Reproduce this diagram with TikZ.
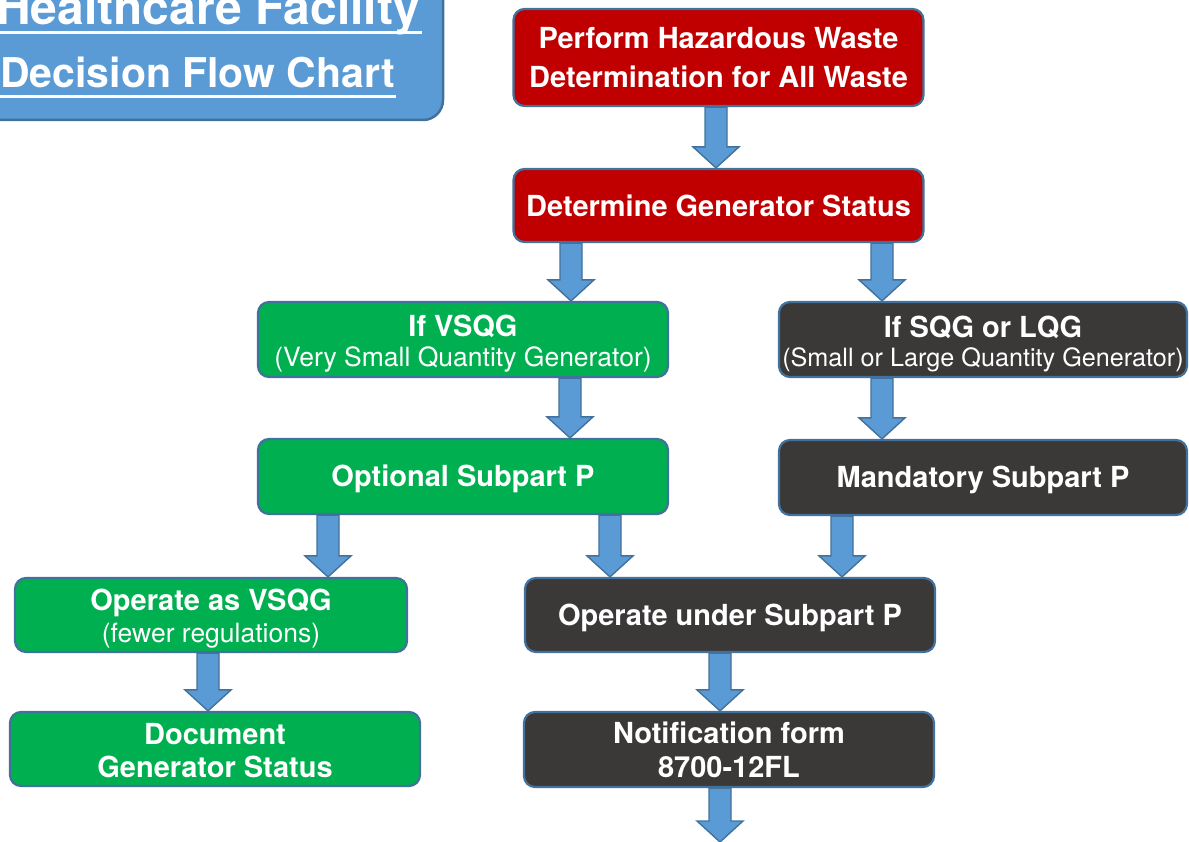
\documentclass[tikz,border=0pt]{standalone}
\usepackage{fontspec}
\setmainfont{TeX Gyre Heros}
\usetikzlibrary{calc}
\definecolor{redbox}{HTML}{C00000}
\definecolor{greenbox}{HTML}{00B050}
\definecolor{darkbox}{HTML}{3B3838}
\definecolor{edgeblue}{HTML}{41719C}
\definecolor{arrowblue}{HTML}{5B9BD5}
\tikzset{
  box/.style={draw=edgeblue, line width=2.2pt, rounded corners=11pt, text=white,
    align=center, inner sep=0pt, minimum height=75pt, minimum width=410pt},
  redb/.style={box, fill=redbox},
  greenb/.style={box, fill=greenbox},
  darkb/.style={box, fill=darkbox},
  blockarrow/.style={fill=arrowblue, draw=edgeblue, line width=1.4pt, line join=miter},
  titletext/.style={text=white, inner sep=0pt, anchor=base east},
  uline/.style={white, line width=2.8pt},
}
\newcommand{\boxfont}[1]{\bfseries\fontsize{29}{#1}\selectfont}
\newcommand{\subtxt}[2][26.5]{{\mdseries\fontsize{#1}{30}\selectfont #2}}
\newcommand{\lift}[1]{\rule{0pt}{#1pt}}
\newcommand{\barrow}[3]{%
  \path[blockarrow] let \p1=(#2.south), \p2=(#3.north), \p3=(#1,0) in
    (\x3-11pt,\y1) -- (\x3+11pt,\y1) -- (\x3+11pt,\y2+21pt) -- (\x3+23pt,\y2+21pt)
    -- (\x3,\y2) -- (\x3-23pt,\y2+21pt) -- (\x3-11pt,\y2+21pt) -- cycle;}
\begin{document}
\begin{tikzpicture}[x=1pt, y=-1pt]
\useasboundingbox (0,0) rectangle (1189,842);
% title
\node[draw=edgeblue, fill=arrowblue, line width=2.5pt, rounded corners=20pt,
  minimum width=483pt, minimum height=160pt, inner sep=0pt] (title) at (201.5,40) {};
\node[titletext, font=\bfseries\fontsize{48}{48}\selectfont] (t1) at (420,25) {Healthcare Facility};
\node[titletext, font=\bfseries\fontsize{41}{41}\selectfont] (t2) at (395,88) {Decision Flow Chart};
\draw[uline] ([yshift=-7.5pt]t1.base west) -- ([yshift=-7.5pt,xshift=2pt]t1.base east);
\draw[uline] ([yshift=-8.5pt]t2.base west) -- ([yshift=-8.5pt,xshift=1pt]t2.base east);
% boxes
\node[redb, minimum height=97pt, font=\boxfont{39}] (b1) at (718.5,57.5) {Perform Hazardous Waste\\Determination for All Waste};
\node[redb, minimum height=73pt, font=\boxfont{34}] (b2) at (718.5,205.5) {Determine Generator Status};
\node[greenb, font=\boxfont{30}] (b3) at (463,339.5) {\lift{30}If VSQG\\\subtxt{(Very Small Quantity Generator)}};
\node[darkb, minimum width=408pt, font=\boxfont{29}] (b4) at (983,339.5) {\lift{30}If SQG or LQG\\\subtxt[25.2]{(Small or Large Quantity Generator)}};
\node[greenb, font=\boxfont{34}] (b5) at (463,476.5) {\lift{25.5}Optional Subpart P};
\node[darkb, minimum width=408pt, font=\boxfont{34}] (b6) at (983,477.5) {\lift{25.5}Mandatory Subpart P};
\node[greenb, minimum width=392pt, minimum height=74pt, font=\boxfont{32}] (b7) at (211,615) {\lift{28}Operate as VSQG\\\subtxt{(fewer regulations)}};
\node[darkb, minimum height=74pt, font=\boxfont{34}] (b8) at (730,615) {\lift{27}Operate under Subpart P};
\node[greenb, minimum height=74pt, font=\boxfont{33}] (b9) at (215,749) {\lift{25}Document\\Generator Status};
\node[darkb, font=\boxfont{34}] (b10) at (729,749.5) {Notification form\\8700-12FL};
\coordinate (end) at (720,842);
% arrows
\barrow{716}{b1}{b2}
\barrow{571}{b2}{b3}
\barrow{882}{b2}{b4}
\barrow{570}{b3}{b5}
\barrow{882}{b4}{b6}
\barrow{328}{b5}{b7}
\barrow{610}{b5}{b8}
\barrow{842}{b6}{b8}
\barrow{208}{b7}{b9}
\barrow{720}{b8}{b10}
\barrow{720}{b10}{end}
\end{tikzpicture}
\end{document}
